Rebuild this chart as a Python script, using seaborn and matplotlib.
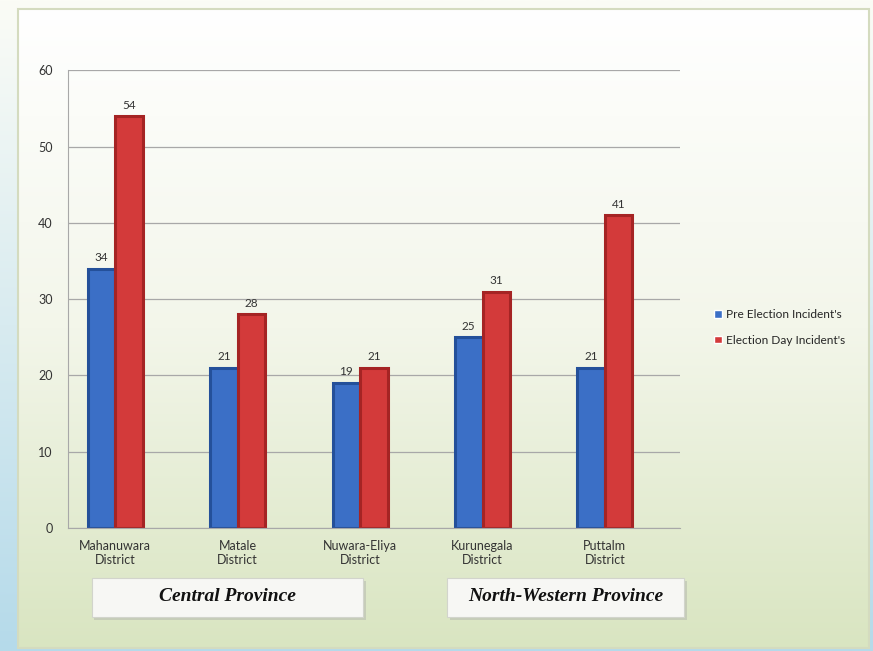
"""Election incidents by district, grouped by province (pre vs election day)."""
import matplotlib
matplotlib.use("Agg")
import matplotlib.pyplot as plt
import numpy as np
import pandas as pd
import seaborn as sns
from matplotlib.patches import FancyBboxPatch, Rectangle

districts = ["Mahanuwara\nDistrict", "Matale\nDistrict", "Nuwara-Eliya\nDistrict",
             "Kurunegala\nDistrict", "Puttalm\nDistrict"]
series = ["Pre Election Incident's", "Election Day Incident's"]
pre_election = [34, 21, 19, 25, 21]
election_day = [54, 28, 21, 31, 41]
provinces = ["Central Province", "North-Western Province"]

colors = {"Pre Election Incident's": "#3b6fc6", "Election Day Incident's": "#d33a3a"}
edges = {"Pre Election Incident's": "#24509a", "Election Day Incident's": "#a52424"}

df = pd.DataFrame({
    "district": districts * 2,
    "series": [series[0]] * 5 + [series[1]] * 5,
    "count": pre_election + election_day,
})

sns.set_style("white")
plt.rcParams["font.family"] = ["Lato", "DejaVu Sans"]

fig = plt.figure(figsize=(8.73, 6.51), dpi=100)

# background: blue-ish outer gradient, white->green panel inside a frame
bg = fig.add_axes([0, 0, 1, 1], zorder=-10)
bg.set_xlim(0, 873)
bg.set_ylim(651, 0)
bg.axis("off")
outer = np.linspace(0, 1, 256)[:, None]
outer_cmap = matplotlib.colors.LinearSegmentedColormap.from_list("o", ["#fbfcf6", "#b5daea"])
bg.imshow(outer, cmap=outer_cmap, extent=[0, 873, 651, 0], aspect="auto")
inner_cmap = matplotlib.colors.LinearSegmentedColormap.from_list("i", ["#ffffff", "#f3f6ea", "#d9e5c1"])
bg.imshow(outer, cmap=inner_cmap, extent=[18, 869, 648, 9], aspect="auto")
bg.add_patch(Rectangle((18, 9), 851, 639, fill=False, edgecolor="#d4dbbf", linewidth=1.5))

ax = fig.add_axes([0.078, 0.189, 0.701, 0.703])
ax.patch.set_alpha(0)
sns.barplot(df, x="district", y="count", hue="series", hue_order=series,
            palette=colors, saturation=1, width=0.45, gap=0, ax=ax, legend=True)

for container, name in zip(ax.containers, series):
    for bar in container:
        bar.set_edgecolor(edges[name])
        bar.set_linewidth(2.2)
    ax.bar_label(container, padding=4, fontsize=8.5, color="#333333")

# the original is drawn with a slight left offset of the category slots
ax.set_xlim(-0.386, 4.614)
ax.set_ylim(0, 60)
ax.set_yticks(range(0, 61, 10))
ax.set_xlabel("")
ax.set_ylabel("")
ax.grid(axis="y", color="#a8a8a8", linewidth=0.9)
ax.set_axisbelow(True)
for side in ["top", "right"]:
    ax.spines[side].set_visible(False)
ax.spines["left"].set_color("#a8a8a8")
ax.spines["bottom"].set_color("#a8a8a8")
ax.tick_params(axis="y", length=0, pad=11, labelsize=9, labelcolor="#333333")
ax.tick_params(axis="x", length=0, pad=9, labelsize=9, labelcolor="#333333")

ax.legend(loc="center left", bbox_to_anchor=(0.806, 0.497),
          bbox_transform=fig.transFigure, frameon=False, fontsize=8.6,
          handlelength=0.6, handleheight=0.6, handletextpad=0.4,
          labelspacing=1.2)

# province boxes under the district labels
boxes = [(0.105, 0.311), (0.512, 0.272)]
for (x0, w), name in zip(boxes, provinces):
    shadow = FancyBboxPatch((x0 + 0.003, 0.048), w, 0.06, boxstyle="square,pad=0",
                            transform=fig.transFigure, facecolor="#b9bdb0",
                            edgecolor="none", alpha=0.6)
    box = FancyBboxPatch((x0, 0.052), w, 0.06, boxstyle="square,pad=0",
                         transform=fig.transFigure, facecolor="#f7f7f4",
                         edgecolor="#d2d4cc", linewidth=0.8)
    fig.patches.extend([shadow, box])
    fig.text(x0 + w / 2, 0.083, name, ha="center", va="center", fontsize=14,
             fontweight="bold", fontstyle="italic", family="Liberation Serif",
             color="#111111")

fig.savefig("out.png", dpi=100)
